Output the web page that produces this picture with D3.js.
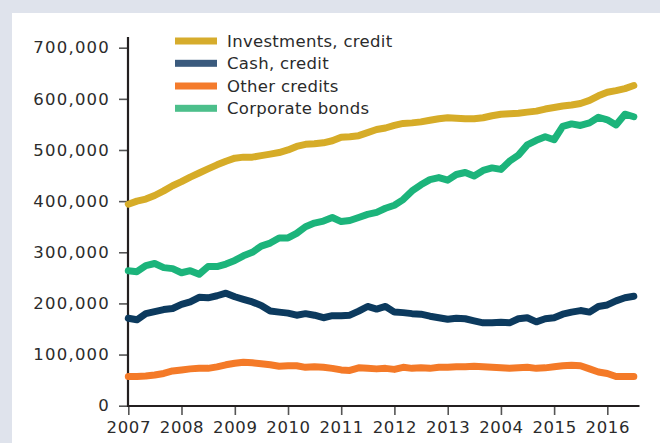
<!DOCTYPE html>
<html>
<head>
<meta charset="utf-8">
<script src="https://cdn.jsdelivr.net/npm/d3@7/dist/d3.min.js"></script>
<style>
  html, body { margin: 0; padding: 0; background: #dfe3ec; }
  svg { display: block; }
  text { font-family: "DejaVu Sans", sans-serif; fill: #2b2b2b; }
</style>
</head>
<body>
<svg id="chart" width="660" height="443"></svg>
<script>
// ---------- DATA ----------
const dates = [
  "2007-01","2007-03","2007-05","2007-07","2007-09","2007-11",
  "2008-01","2008-03","2008-05","2008-07","2008-09","2008-11",
  "2009-01","2009-03","2009-05","2009-07","2009-09","2009-11",
  "2010-01","2010-03","2010-05","2010-07","2010-09","2010-11",
  "2011-01","2011-03","2011-05","2011-07","2011-09","2011-11",
  "2012-01","2012-03","2012-05","2012-07","2012-09","2012-11",
  "2013-01","2013-03","2013-05","2013-07","2013-09","2013-11",
  "2014-01","2014-03","2014-05","2014-07","2014-09","2014-11",
  "2015-01","2015-03","2015-05","2015-07","2015-09","2015-11",
  "2016-01","2016-03","2016-05","2016-07"
];
const investmentsCredit = [
  394000,400000,404000,411000,420000,430000,
  438000,447000,455000,463000,471000,478000,
  484000,486000,486000,489000,492000,495000,
  500000,507000,511000,512000,514000,518000,
  525000,526000,528000,534000,540000,543000,
  548000,552000,553000,555000,558000,561000,
  563000,562000,561000,561000,563000,567000,
  570000,571000,572000,574000,576000,580000,
  583000,586000,588000,591000,597000,606000,
  613000,616000,620000,626000
];
const cashCredit = [
  171000,168000,180000,184000,188000,190000,
  198000,203000,212000,211000,215000,220000,
  213000,208000,203000,196000,185000,183000,
  181000,177000,180000,177000,172000,176000,
  176000,177000,185000,194000,189000,194000,
  183000,182000,180000,179000,175000,172000,
  169000,171000,170000,166000,162000,162000,
  163000,162000,170000,172000,164000,170000,
  172000,179000,183000,186000,183000,194000,
  197000,205000,211000,214000
];
const otherCredits = [
  57000,57000,58000,60000,63000,68000,
  70000,72000,73000,73000,76000,80000,
  83000,85000,84000,82000,80000,77000,
  78000,78000,75000,76000,75000,73000,
  70000,69000,74000,73000,72000,73000,
  71000,75000,73000,74000,73000,75000,
  75000,76000,76000,77000,76000,75000,
  74000,73000,74000,75000,73000,74000,
  76000,78000,79000,78000,72000,66000,
  63000,57000,57000,57000
];
const corporateBonds = [
  264000,262000,274000,278000,270000,268000,
  260000,264000,257000,272000,272000,277000,
  284000,293000,300000,312000,318000,328000,
  328000,337000,350000,357000,361000,368000,
  360000,362000,368000,374000,378000,386000,
  392000,403000,420000,432000,442000,446000,
  441000,452000,456000,449000,460000,465000,
  462000,478000,490000,510000,519000,526000,
  520000,546000,551000,548000,553000,564000,
  559000,549000,570000,565000
];
const seriesNames = ["Investments, credit","Cash, credit","Other credits","Corporate bonds"];
const tickYears = [2007,2008,2009,2010,2011,2012,2013,2014,2015,2016];
const xTickLabels = ["2007","2008","2009","2010","2011","2012","2013","2004","2015","2016"];
const yTickValues = [0,100000,200000,300000,400000,500000,600000,700000];

// ---------- STYLE ----------
const lineColors = ["#d6ac28","#0c3a5e","#f47a28","#1cb47b"];
const legendColors = ["#d6ac2c","#3a5a7d","#f47b2c","#4cbf8b"];
const seriesValues = [investmentsCredit, cashCredit, otherCredits, corporateBonds];

const svg = d3.select("#chart");
svg.append("rect").attr("x",12).attr("y",13).attr("width",648).attr("height",430).attr("fill","#ffffff");

const parse = d3.timeParse("%Y-%m");
const dateObjs = dates.map(parse);

const x = d3.scaleTime()
  .domain([new Date(2007,0,1), new Date(2016,0,1)])
  .range([128.3, 607.3]);
const y = d3.scaleLinear().domain([0,700000]).range([405.7, 47.7]);

// Y axis
const yAxis = d3.axisLeft(y).tickValues(yTickValues).tickSizeOuter(0).tickSizeInner(9).tickPadding(9)
  .tickFormat(d3.format(","));
const gy = svg.append("g").attr("transform","translate(128,0)").call(yAxis);
gy.select(".domain").remove();
gy.selectAll(".tick line").attr("stroke","#555").attr("stroke-width",1.6);
gy.selectAll(".tick text").attr("font-size",16.5).attr("letter-spacing","1.2px")
  .attr("font-family","DejaVu Sans, sans-serif").attr("fill","#2b2b2b");

// X axis
const xAxis = d3.axisBottom(x).tickValues(tickYears.map(yr => new Date(yr,0,1)))
  .tickSizeOuter(0).tickSizeInner(9).tickPadding(6)
  .tickFormat((d,i) => xTickLabels[i]);
const gx = svg.append("g").attr("transform","translate(0,406)").call(xAxis);
gx.select(".domain").remove();
gx.selectAll(".tick line").attr("stroke","#555").attr("stroke-width",1.6);
gx.selectAll(".tick text").attr("font-size",16.5).attr("letter-spacing","0.6px")
  .attr("font-family","DejaVu Sans, sans-serif").attr("fill","#2b2b2b");

// axis lines
svg.append("line").attr("x1",128).attr("x2",128).attr("y1",37).attr("y2",407)
  .attr("stroke","#231f20").attr("stroke-width",2.2);
svg.append("line").attr("x1",127).attr("x2",639.5).attr("y1",406).attr("y2",406)
  .attr("stroke","#231f20").attr("stroke-width",2.2);

// lines
const line = d3.line().x((d,i) => x(dateObjs[i])).y(d => y(d)).curve(d3.curveLinear);
const drawOrder = [0,3,1,2];
drawOrder.forEach(k => {
  svg.append("path").datum(seriesValues[k])
    .attr("d", line)
    .attr("fill","none")
    .attr("stroke", lineColors[k])
    .attr("stroke-width", 7)
    .attr("stroke-linejoin","round")
    .attr("stroke-linecap","round");
});

// legend
const legendY = [41, 63.3, 86, 108.3];
const lg = svg.append("g");
seriesNames.forEach((name,i) => {
  lg.append("rect").attr("x",175).attr("y",legendY[i]-3.5).attr("width",42).attr("height",7)
    .attr("fill",legendColors[i]);
  lg.append("text").attr("x",227).attr("y",legendY[i]).attr("dy","0.36em")
    .attr("font-size",16.5).attr("letter-spacing","0.3px").text(name);
});
</script>
</body>
</html>
